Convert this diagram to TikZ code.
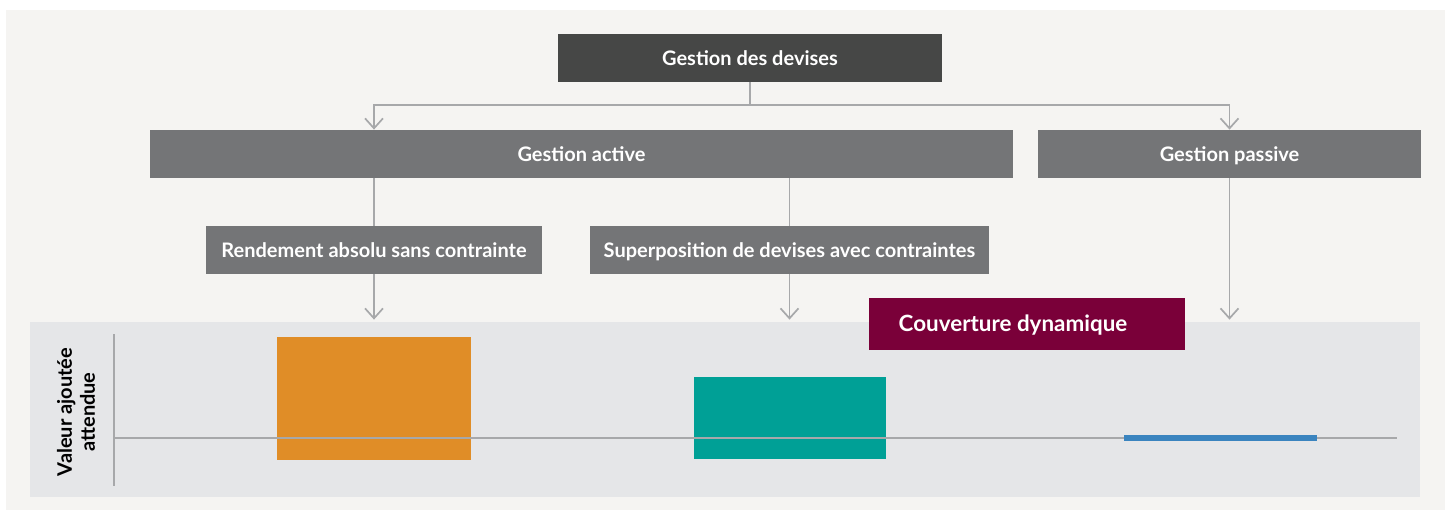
\documentclass[tikz,border=0pt]{standalone}
\usepackage{fontspec}
\setmainfont{Lato}
\usetikzlibrary{arrows.meta}
\definecolor{paper}{HTML}{F5F4F2}
\definecolor{panelgray}{HTML}{E5E6E8}
\definecolor{darkbox}{HTML}{464746}
\definecolor{midbox}{HTML}{747577}
\definecolor{wine}{HTML}{7A0039}
\definecolor{linegray}{HTML}{A7A8AA}
\definecolor{orangebar}{HTML}{E08D27}
\definecolor{tealbar}{HTML}{00A096}
\definecolor{bluebar}{HTML}{3A84BF}
\tikzset{
  box/.style={fill=midbox, text=white, inner sep=0pt, minimum height=24pt,
    text height=0.72em, text depth=0pt,
    font=\fontsize{10}{12}\selectfont\bfseries},
  bar/.style={inner sep=0pt, draw=none},
  link/.style={draw=linegray, line width=0.85pt},
  arr/.style={link, -{Straight Barb[length=5pt,width=9pt]}}
}
\begin{document}
\begin{tikzpicture}[x=0.5pt,y=-0.5pt]
  \useasboundingbox[fill=white] (0,0) rectangle (1451,514);
  \fill[paper] (6,10) rectangle (1445,510);
  \node[fill=panelgray, inner sep=0pt, minimum width=695pt, minimum height=87.5pt] (panel) at (725,409.5) {};

  \node[box, fill=darkbox, minimum width=192pt] (devises) at (750,58) {Gestion des devises};
  \node[box, minimum width=431.5pt] (active) at (581.5,154) {Gestion active};
  \node[box, minimum width=191.5pt] (passive) at (1229.5,154) {Gestion passive};
  \node[box, minimum width=168pt] (rendement) at (374,250) {Rendement absolu sans contrainte};
  \node[box, minimum width=199.5pt] (superpos) at (789.5,250) {Superposition de devises avec contraintes};

  \coordinate (split) at (750,105);
  \draw[link] (devises.south) -- (split);
  \draw[arr] (split) -| (rendement |- active.north);
  \draw[arr] (split) -| (passive.north);
  \draw[link] (rendement |- active.south) -- (rendement.north);
  \draw[link] (superpos |- active.south) -- (superpos.north);
  \draw[arr] (rendement.south) -- ([yshift=1pt]rendement |- panel.north);
  \draw[arr] (superpos.south) -- ([yshift=1pt]superpos |- panel.north);
  \draw[arr] (passive.south) -- ([yshift=1pt]passive |- panel.north);

  \node[bar, fill=orangebar, minimum width=97pt, minimum height=61.5pt] (absolu) at (374,398.5) {};
  \node[bar, fill=tealbar, minimum width=96pt, minimum height=41pt] (overlay) at (790,418) {};
  \coordinate (origin) at (114,438);
  \coordinate (xend) at (1397,438);
  \coordinate (ytop) at (114,334);
  \coordinate (ybot) at (114,486);
  \draw[link] (origin) -- (xend);
  \draw[link] (ytop) -- (ybot);
  \node[bar, fill=bluebar, minimum width=96.5pt, minimum height=3pt] (hedge) at (1220.5,438) {};

  \node[fill=wine, text=white, inner sep=0pt, minimum width=158pt, minimum height=26pt,
    text height=0.72em, text depth=0pt,
    font=\fontsize{11.2}{13}\selectfont\bfseries] (couverture) at (1027,324) {\hspace*{-14pt}Couverture dynamique};

  \node[rotate=90, align=center, text=black, font=\fontsize{10}{11.5}\selectfont\bfseries] (ylabel) at (76,412) {Valeur ajoutée\\attendue};
\end{tikzpicture}
\end{document}
